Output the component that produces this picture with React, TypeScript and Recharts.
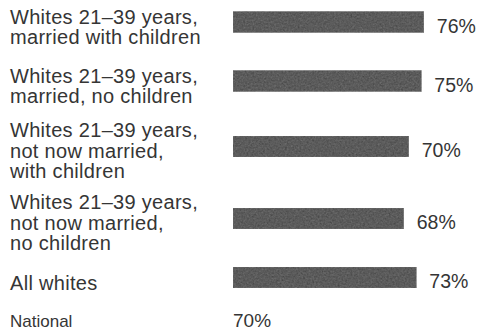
import React from "react";
import { BarChart, Bar, XAxis, YAxis, LabelList } from "recharts";

const categories: string[] = [
  "Whites 21–39 years,|married with children",
  "Whites 21–39 years,|married, no children",
  "Whites 21–39 years,|not now married,|with children",
  "Whites 21–39 years,|not now married,|no children",
  "All whites",
];
const values: number[] = [76, 75, 70, 68, 73];
const nationalLabel = "National";
const nationalValue = 70;

// Row slots: consecutive rows are spaced by the mean height of their label blocks plus a gap
const UNIT = 13; // px per slot unit (half of a label line step, roughly)
const GAP_UNITS = 33 / UNIT;
const lineCounts = categories.map((c) => c.split("|").length);
const slots: number[] = [];
categories.forEach((_, i) => {
  slots.push(
    i === 0 ? 0 : slots[i - 1] + (lineCounts[i - 1] + lineCounts[i]) / 2 + GAP_UNITS
  );
});

const data = categories.map((c, i) => ({ name: c, value: values[i], slot: slots[i] }));

const CHART_H = 332;
const XAXIS_H = 22.5;
const FIRST_ROW_PX = 22;
const Y_MIN = -FIRST_ROW_PX / UNIT;
const Y_MAX = Y_MIN + (CHART_H - XAXIS_H) / UNIT;

const LINE = 20.5;
const FONT = "'Liberation Sans', Arial, Helvetica, sans-serif";
const TEXT = "#353535";

const CategoryTick = (props: any) => {
  const { y, payload } = props;
  let idx = slots.indexOf(payload.value);
  if (idx < 0) idx = payload.index ?? 0;
  const lines: string[] = categories[idx].split("|");
  const first = y + 12.5 - (lines.length - 1) * 10.8;
  return (
    <text
      x={10}
      y={first}
      fill={TEXT}
      fontSize={20}
      letterSpacing={0.3}
      fontFamily={FONT}
      textAnchor="start"
    >
      {lines.map((l, i) => (
        <tspan key={i} x={10} y={first + i * LINE}>
          {l}
        </tspan>
      ))}
    </text>
  );
};

const NationalTick = (props: any) => {
  const { x, y } = props;
  return (
    <g>
      <text x={10} y={y + 9} fill={TEXT} fontSize={17} fontFamily={FONT} textAnchor="start">
        {nationalLabel}
      </text>
      <text x={x} y={y + 9} fill={TEXT} fontSize={19} fontFamily={FONT} textAnchor="start">
        {`${nationalValue}%`}
      </text>
    </g>
  );
};

const ValueLabel = (props: any) => {
  const { x, y, width, height, value } = props;
  return (
    <text
      x={x + width + 13}
      y={y + height / 2 + 10.5}
      fill={TEXT}
      fontSize={19.5}
      fontFamily={FONT}
      textAnchor="start"
    >
      {`${value}%`}
    </text>
  );
};

export default function App() {
  return (
    <div style={{ position: "absolute", left: 0, top: 0, width: 480, height: 332, background: "#fff" }}>
      <BarChart
        width={480}
        height={CHART_H}
        data={data}
        layout="vertical"
        margin={{ top: 0, right: 21, bottom: 0, left: 0 }}
      >
        <defs>
          <filter
            id="grain"
            x="0"
            y="0"
            width="100%"
            height="100%"
            colorInterpolationFilters="sRGB"
          >
            <feTurbulence type="fractalNoise" baseFrequency="0.55" numOctaves="2" seed="4" result="n" />
            <feColorMatrix
              in="n"
              type="matrix"
              values="0.33 0.33 0.33 0 0  0.33 0.33 0.33 0 0  0.33 0.33 0.33 0 0  0 0 0 0 0.3"
              result="g"
            />
            <feComposite in="g" in2="SourceGraphic" operator="in" result="gi" />
            <feMerge>
              <feMergeNode in="SourceGraphic" />
              <feMergeNode in="gi" />
            </feMerge>
          </filter>
        </defs>
        <XAxis
          type="number"
          domain={[0, 90]}
          ticks={[0]}
          axisLine={false}
          tickLine={false}
          height={XAXIS_H}
          tick={<NationalTick />}
          interval={0}
        />
        <YAxis
          type="number"
          dataKey="slot"
          domain={[Y_MIN, Y_MAX]}
          ticks={slots}
          allowDecimals
          width={233}
          axisLine={false}
          tickLine={false}
          tick={<CategoryTick />}
          interval={0}
        />
        <Bar
          dataKey="value"
          fill="#4c4c4c"
          stroke="#777777"
          strokeWidth={0.5}
          barSize={21}
          filter="url(#grain)"
          isAnimationActive={false}
        >
          <LabelList dataKey="value" content={<ValueLabel />} />
        </Bar>
      </BarChart>
    </div>
  );
}
